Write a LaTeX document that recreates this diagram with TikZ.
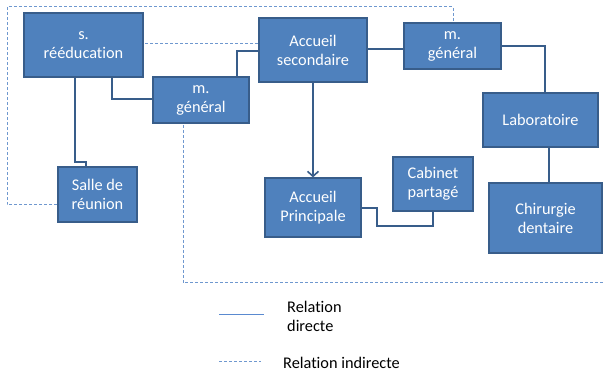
\documentclass[tikz,border=0pt]{standalone}
\usepackage{fontspec}
\setmainfont{Carlito}[Ligatures=NoCommon]
\usetikzlibrary{arrows.meta}
\definecolor{boxfill}{HTML}{4F81BD}
\definecolor{boxline}{HTML}{385D8A}
\definecolor{dashblue}{HTML}{6F98CF}
\definecolor{legblue}{HTML}{5A8AD0}
\tikzset{
  unit/.style={draw=boxline, line width=1.2pt, fill=boxfill, text=white,
    align=center, font=\fontsize{16.3}{19}\selectfont, inner sep=0pt},
  direct/.style={draw=boxline, line width=1.6pt},
  indirect/.style={draw=dashblue, line width=1pt, dash pattern=on 3pt off 2pt},
  legtext/.style={font=\fontsize{16.3}{19}\selectfont, align=left, anchor=west, inner sep=0pt}
}
\newcommand{\unitbox}[6]{% name, x1, y1, x2, y2, text
  \node[unit, minimum width=#4-#2, minimum height=#5-#3] (#1) at ({(#2+#4)/2},{(#3+#5)/2}) {#6};}
\begin{document}
\begin{tikzpicture}[x=1pt,y=-1pt]
\useasboundingbox (0,0) rectangle (608,374);

% indirect relations (behind the boxes)
\coordinate (c1) at (7,205);
\coordinate (c2) at (7,7);
\coordinate (c3) at (453,7);
\coordinate (d1) at (183,283);
\coordinate (d2) at (604,283);
\draw[indirect] (97,205) -- (c1) -- (c2) -- (c3) -- (453,46);
\draw[indirect] (120,44) -- (280,44);
\draw[indirect] (183,110) -- (d1) -- (d2);

% direct relations
\draw[direct] (75,60) |- (86,162) -- (86,180);
\draw[direct] (112,60) |- (170,99);
\draw[direct] (237,100) |- (280,51);
\draw[direct] (340,49) -- (420,49);
\draw[direct] (480,46) -| (545,110);
\draw[direct] (549,120) -- (549,200);
\draw[direct] (340,208) -| (377,226) -| (433,190);

% units
\unitbox{reed}{24}{13}{143}{77}{s.\\rééducation}
\unitbox{mgl}{153}{77}{249}{123}{m.\\général}
\unitbox{salle}{58}{167}{137}{222}{Salle de\\réunion}
\unitbox{acs}{259}{18}{367}{82}{Accueil\\secondaire}
\unitbox{mgr}{404}{23}{501}{69}{m.\\général}
\unitbox{labo}{483}{93}{598}{147}{Laboratoire}
\unitbox{chir}{489}{183}{602}{253}{Chirurgie\\dentaire}
\unitbox{cab}{393}{157}{473}{211}{Cabinet\\partagé}
\unitbox{acp}{265}{178}{361}{237}{Accueil\\Principale}

% arrow from secondary to main reception
\draw[direct, -{Straight Barb[length=5pt,width=11pt]}] (acs.south -| 313,0) -- (acp.north -| 313,0);

% legend
\coordinate (l1) at (219,314);
\coordinate (l2) at (264,314);
\coordinate (l3) at (219,361);
\coordinate (l4) at (261,361);
\draw[draw=legblue, line width=0.8pt] (l1) -- (l2);
\draw[indirect] (l3) -- (l4);
\node[legtext] (ld) at (287,316) {Relation\\directe};
\node[legtext] (li) at (283,363) {Relation indirecte};
\end{tikzpicture}
\end{document}
